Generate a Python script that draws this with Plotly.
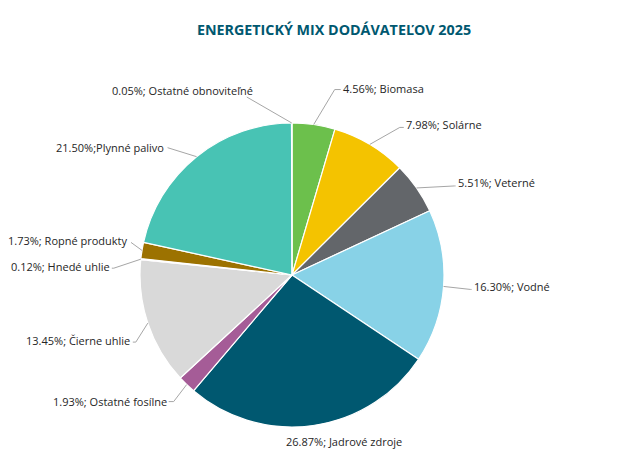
import math
import plotly.graph_objects as go

# ---- data ----
labels = ["Biomasa", "Solárne", "Veterné", "Vodné", "Jadrové zdroje",
          "Ostatné fosílne", "Čierne uhlie", "Hnedé uhlie", "Ropné produkty",
          "Plynné palivo", "Ostatné obnoviteľné"]
shares = [4.56, 7.98, 5.51, 16.30, 26.87, 1.93, 13.45, 0.12, 1.73, 21.50, 0.05]
separators = ["; ", "; ", "; ", "; ", "; ", "; ", "; ", "; ", "; ", ";", "; "]
title_text = "ENERGETICKÝ MIX DODÁVATEĽOV 2025"

# ---- styles / layout ----
colors = ["#6CC04C", "#F4C300", "#63666A", "#88D2E7", "#005870",
          "#A55C97", "#D9D9D9", "#C46AB0", "#9C7200", "#48C3B4", "#BFBFBF"]
# leader-line layout per label: (elbow dx, elbow dy, tick, text dx, text dy, draw line)
label_layout = [
    (21, -35, 6, 7, -1, True),
    (30, -17, 4, 5, -3, True),
    (38, -2, 1, 2, -3, True),
    (27, 3, 1, 2, -3, True),
    (31, 16, 0, 0, 0, False),
    (-13, 17, -5, -6, -0.5, True),
    (-12, 19, -3, -5, -2, True),
    (-27, 9, -2, -3, -2, True),
    (-11, -8, 0, -2, -2, True),
    (-29, -9, 0, -3, -0.5, True),
    (-45, -26, 0, 7, -7, True),
]

W, H = 641, 449
cx, cy, R = 292, 275, 152
font_family = "Open Sans"
label_font = dict(family=font_family, size=11, color="#262626")

fig = go.Figure(go.Pie(
    labels=labels, values=shares, sort=False, direction="clockwise",
    rotation=0, textinfo="none", hoverinfo="label+percent",
    marker=dict(colors=colors, line=dict(color="white", width=1.2)),
    domain=dict(x=[(cx - R) / W, (cx + R) / W],
                y=[(H - cy - R) / H, (H - cy + R) / H]),
    showlegend=False,
))

def px(x):
    return x / W

def py(y):
    return 1 - y / H

total = sum(shares)
cum = 0.0
annotations = []
shapes = []
for name, v, sep, lay in zip(labels, shares, separators, label_layout):
    mid = (cum + v / 2) / total * 2 * math.pi
    cum += v
    ex = cx + R * math.sin(mid)
    ey = cy - R * math.cos(mid)
    dx, dy, tick, tdx, tdy, line = lay
    qx, qy = ex + dx, ey + dy
    text = f"{v:.2f}%{sep}{name}"
    if line:
        shapes.append(dict(
            type="path", xref="paper", yref="paper",
            path=f"M {px(ex)},{py(ey)} L {px(qx)},{py(qy)} L {px(qx + tick)},{py(qy)}",
            line=dict(color="#A6A6A6", width=1)))
        anchor = "left" if dx > 0 else "right"
        annotations.append(dict(
            x=px(qx + tdx), y=py(qy + tdy), xref="paper", yref="paper",
            text=text, showarrow=False, xanchor=anchor, yanchor="middle",
            borderpad=0, font=label_font))
    else:
        annotations.append(dict(
            x=px(qx), y=py(qy), xref="paper", yref="paper", text=text,
            showarrow=False, xanchor="center", yanchor="middle",
            borderpad=0, font=label_font))

fig.update_layout(
    width=W, height=H,
    margin=dict(l=0, r=0, t=0, b=0),
    paper_bgcolor="white", plot_bgcolor="white",
    title=dict(text=f"<b>{title_text}</b>", x=334 / W, xanchor="center",
               y=1 - 30 / H, yanchor="middle",
               font=dict(family=font_family, size=14.3, color="#005870")),
    annotations=annotations, shapes=shapes,
)

fig.write_html("out.html")
